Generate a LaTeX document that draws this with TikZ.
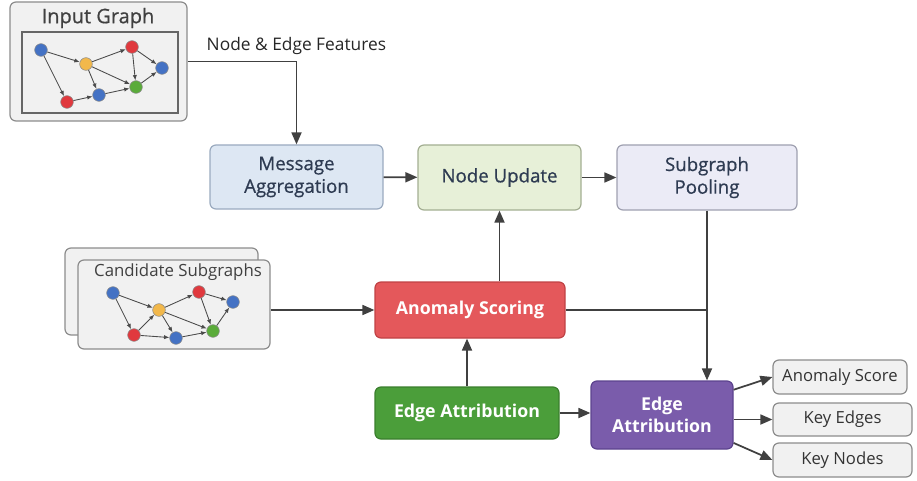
\documentclass[tikz,border=0pt]{standalone}
\usepackage{fontspec}
\setmainfont{Open Sans}
\newfontfamily\semibf{Open Sans}[FakeBold=0.7]
\usetikzlibrary{arrows.meta}
\definecolor{arrowc}{HTML}{404040}
\definecolor{cardfill}{HTML}{F1F1F1}
\definecolor{cardline}{HTML}{8C8C8C}
\definecolor{txtdark}{HTML}{2E3B52}
\definecolor{mafill}{HTML}{DDE7F3}
\definecolor{maline}{HTML}{9AAABF}
\definecolor{nufill}{HTML}{E7F0D8}
\definecolor{nuline}{HTML}{A3AE92}
\definecolor{spfill}{HTML}{EBEBF6}
\definecolor{spline}{HTML}{9FA0B0}
\definecolor{asfill}{HTML}{E4585B}
\definecolor{asline}{HTML}{C04245}
\definecolor{egfill}{HTML}{4B9E3A}
\definecolor{egline}{HTML}{3A7E2D}
\definecolor{epfill}{HTML}{7A5CAB}
\definecolor{epline}{HTML}{5C438E}
\definecolor{gblue}{HTML}{4472C4}
\definecolor{gyellow}{HTML}{F2B84B}
\definecolor{gred}{HTML}{E0393E}
\definecolor{ggreen}{HTML}{5AAB3A}
\definecolor{gline}{HTML}{4A4A4A}
\begin{document}
\begin{tikzpicture}[x=0.75pt,y=-0.75pt,
  base/.style={rounded corners=4.5pt, line width=0.9pt, inner sep=0pt, align=center, font=\fontsize{14}{17}\selectfont\semibf},
  card/.style={base, draw=cardline, fill=cardfill},
  mabox/.style={base, draw=maline, fill=mafill, text=txtdark},
  nubox/.style={base, draw=nuline, fill=nufill, text=txtdark},
  spbox/.style={base, draw=spline, fill=spfill, text=txtdark},
  asbox/.style={base, draw=asline, fill=asfill, text=white, font=\fontsize{13.3}{16}\selectfont\bfseries},
  egbox/.style={base, draw=egline, fill=egfill, text=white, font=\fontsize{13.3}{16}\selectfont\bfseries},
  epbox/.style={base, draw=epline, fill=epfill, text=white, font=\fontsize{13.3}{17}\selectfont\bfseries},
  outbox/.style={base, draw=cardline, fill=cardfill, text=black!80, font=\fontsize{12.5}{15}\selectfont},
  arr/.style={draw=arrowc, line width=1.3pt, -{Triangle[length=9pt,width=7.5pt]}},
  plainline/.style={draw=arrowc, line width=1.3pt},
  gn/.style={circle, inner sep=0pt, minimum size=9.5pt, draw=black!45, line width=0.4pt},
  ge/.style={draw=gline, line width=0.65pt, -{Latex[length=4pt,width=3.2pt]}},
]
\useasboundingbox (0,0) rectangle (917,481);

% Input graph card
\node[card, minimum width=132.75pt, minimum height=89.25pt] (ig) at (98.5,61.5) {};
\node[font=\fontsize{15}{18}\selectfont\semibf, text=black!75] (igt) at (98,18) {Input Graph};
\node[draw=black!60, line width=0.9pt, inner sep=0pt, minimum width=117pt, minimum height=60.75pt] (igi) at (100,72.5) {};
\node[gn, fill=gblue] (i1) at (41,50) {};
\node[gn, fill=gyellow] (i2) at (86,64) {};
\node[gn, fill=gred] (i3) at (132,47) {};
\node[gn, fill=gblue] (i4) at (162,68) {};
\node[gn, fill=ggreen] (i5) at (136,87) {};
\node[gn, fill=gblue] (i6) at (99,95) {};
\node[gn, fill=gred] (i7) at (67,102) {};
\draw[ge] (i1) -- (i2);
\draw[ge] (i1) -- (i7);
\draw[ge] (i2) -- (i3);
\draw[ge] (i2) -- (i6);
\draw[ge] (i2) -- (i5);
\draw[ge] (i3) -- (i4);
\draw[ge] (i3) -- (i5);
\draw[ge] (i5) -- (i4);
\draw[ge] (i7) -- (i6);
\draw[ge] (i6) -- (i5);

% Candidate subgraphs
\node[card, minimum width=144.75pt, minimum height=65.25pt] (candb) at (161.5,291.5) {};
\node[card, minimum width=144pt, minimum height=66.75pt] (cand) at (174,304.5) {};
\node[font=\fontsize{12.6}{15}\selectfont, text=black!75] (candt) at (178,272) {Candidate Subgraphs};
\node[gn, fill=gblue] (c1) at (113,293) {};
\node[gn, fill=gyellow] (c2) at (159,310) {};
\node[gn, fill=gred] (c3) at (199,292) {};
\node[gn, fill=gblue] (c4) at (233,302) {};
\node[gn, fill=ggreen] (c5) at (213,331) {};
\node[gn, fill=gblue] (c6) at (176,338) {};
\node[gn, fill=gred] (c7) at (134,335) {};
\draw[ge] (c1) -- (c2);
\draw[ge] (c1) -- (c7);
\draw[ge] (c2) -- (c3);
\draw[ge] (c7) -- (c2);
\draw[ge] (c2) -- (c6);
\draw[ge] (c2) -- (c5);
\draw[ge] (c3) -- (c4);
\draw[ge] (c3) -- (c5);
\draw[ge] (c5) -- (c4);
\draw[ge] (c7) -- (c6);
\draw[ge] (c6) -- (c5);

% Main pipeline
\node[mabox, minimum width=129.75pt, minimum height=48pt] (ma) at (296.5,177) {Message\\Aggregation};
\node[nubox, minimum width=122.25pt, minimum height=48.75pt] (nu) at (499.5,177.5) {Node Update};
\node[spbox, minimum width=135pt, minimum height=48.75pt] (sp) at (707,177.5) {Subgraph\\Pooling};
\node[asbox, minimum width=142.5pt, minimum height=42pt] (as) at (470,310) {Anomaly Scoring};
\node[egbox, minimum width=138pt, minimum height=39pt] (eg) at (467,413) {Edge Attribution};
\node[epbox, minimum width=106.5pt, minimum height=51pt] (ep) at (662,415) {Edge\\Attribution};
\node[outbox, minimum width=100.5pt, minimum height=25.5pt] (o1) at (840,377) {Anomaly Score};
\node[outbox, minimum width=104.25pt, minimum height=24.75pt] (o2) at (842.5,419.5) {Key Edges};
\node[outbox, minimum width=104.25pt, minimum height=25.5pt] (o3) at (842.5,460) {Key Nodes};

% Connectors
\node[anchor=west, font=\fontsize{13}{15}\selectfont, text=black!85] (nef) at (202,46) {Node \& Edge Features};
\draw[arr] (ig.east) -| (ma.north);
\draw[arr] (ma) -- (nu);
\draw[arr] (nu) -- (sp);
\draw[arr] (cand.east |- as.west) -- (as.west);
\draw[arr] (nu.south |- as.north) -- (nu.south);
\draw[arr] (eg.north) -- (eg.north |- as.south);
\draw[arr] (eg) -- (eg -| ep.west);
\draw[plainline] (as.east) -- (as.east -| sp.south);
\draw[arr] (sp.south) -- (sp.south |- ep.north);
\draw[arr] ([yshift=-7pt]ep.north east) -- (o1.west);
\draw[arr] (ep.east |- o2.west) -- (o2.west);
\draw[arr] ([yshift=5pt]ep.south east) -- (o3.west);
\end{tikzpicture}
\end{document}
